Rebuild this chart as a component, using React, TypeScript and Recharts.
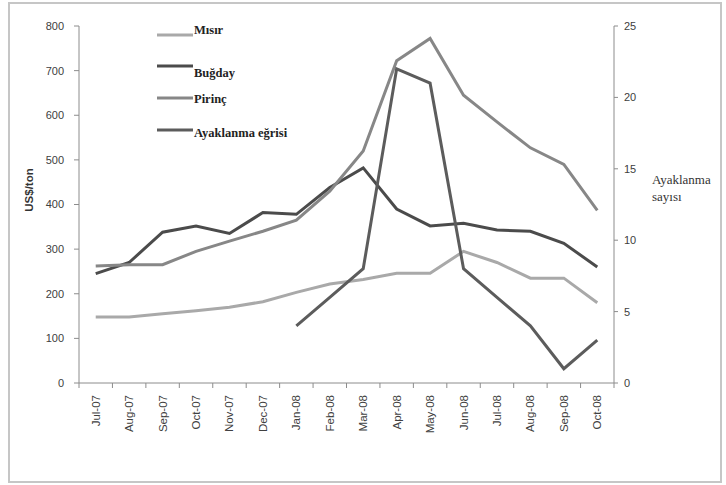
import { LineChart, Line, XAxis, YAxis, Legend, Label } from 'recharts';

const months = [
  'Jul-07', 'Aug-07', 'Sep-07', 'Oct-07', 'Nov-07', 'Dec-07', 'Jan-08', 'Feb-08',
  'Mar-08', 'Apr-08', 'May-08', 'Jun-08', 'Jul-08', 'Aug-08', 'Sep-08', 'Oct-08',
];
const misir = [148, 148, 155, 162, 170, 182, 203, 222, 232, 246, 246, 295, 270, 235, 235, 180];
const bugday = [245, 270, 338, 352, 335, 382, 378, 438, 482, 390, 352, 358, 343, 340, 313, 260];
const pirinc = [262, 265, 265, 295, 318, 340, 365, 430, 520, 722, 772, 645, 585, 527, 490, 387];
const ayaklanma = [null, null, null, null, null, null, 4, 6, 8, 22, 21, 8, 6, 4, 1, 3];

const priceTicks = [0, 100, 200, 300, 400, 500, 600, 700, 800];
const riotTicks = [0, 5, 10, 15, 20, 25];

const series = [
  { key: 'Mısır', color: '#a9a9a9', axis: 'left' },
  { key: 'Buğday', color: '#4b4b4b', axis: 'left' },
  { key: 'Pirinç', color: '#878787', axis: 'left' },
  { key: 'Ayaklanma eğrisi', color: '#5c5c5c', axis: 'right' },
];

const data = months.map((m, i) => ({
  month: m,
  'Mısır': misir[i],
  'Buğday': bugday[i],
  'Pirinç': pirinc[i],
  'Ayaklanma eğrisi': ayaklanma[i],
}));

const PLOT_W = 535;
const halfBand = PLOT_W / months.length / 2;

function MonthTick(props: any) {
  const { x, y, payload, index } = props;
  const last = index === months.length - 1;
  return (
    <g>
      <line x1={x - halfBand} x2={x - halfBand} y1={y - 8} y2={y - 3} stroke="#8c8c8c" />
      {last && <line x1={x + halfBand} x2={x + halfBand} y1={y - 8} y2={y - 3} stroke="#8c8c8c" />}
      <text
        x={x}
        y={y}
        transform={`rotate(-90 ${x} ${y})`}
        dx={-4}
        dy={4}
        textAnchor="end"
        fontSize={11.5}
        fontFamily="'Liberation Sans', Arial, sans-serif"
        fill="#404040"
      >
        {payload.value}
      </text>
    </g>
  );
}

// legend rows: [line y, text baseline]
const legendRows = [
  [15, 14],
  [46, 57],
  [78, 83],
  [110, 117],
];

function LegendBox() {
  return (
    <svg width={220} height={130}>
      {series.map((s, i) => (
        <g key={s.key}>
          <line x1={0} x2={36} y1={legendRows[i][0]} y2={legendRows[i][0]} stroke={s.color} strokeWidth={3} />
          <text
            x={37}
            y={legendRows[i][1]}
            fontSize={12.5}
            fontWeight="bold"
            fontFamily="'Liberation Serif', 'Times New Roman', serif"
            fill="#222"
          >
            {s.key}
          </text>
        </g>
      ))}
    </svg>
  );
}

export default function App() {
  return (
    <div style={{ position: 'absolute', left: 0, top: 0, width: 726, height: 485, background: '#fff' }}>
      <div
        style={{
          position: 'absolute',
          left: 8,
          top: 2,
          width: 714,
          height: 481,
          boxSizing: 'border-box',
          border: '2px solid #c6c6c6',
        }}
      />
      <div style={{ position: 'absolute', left: 0, top: 0 }}>
        <LineChart width={726} height={485} data={data} margin={{ top: 26, right: 72, bottom: 42, left: 20 }}>
          <XAxis
            dataKey="month"
            height={60}
            interval={0}
            padding={{ left: halfBand, right: halfBand }}
            tickLine={false}
            stroke="#8c8c8c"
            tick={<MonthTick />}
            tickMargin={0}
            tickSize={8}
          />
          <YAxis
            yAxisId="left"
            width={59}
            domain={[0, 800]}
            ticks={priceTicks}
            interval={0}
            tickSize={5}
            tickMargin={10}
            stroke="#8c8c8c"
            tick={{ fontSize: 11, fill: '#404040', fontFamily: "'Liberation Sans', Arial, sans-serif" }}
          >
            <Label
              content={() => (
                <text
                  x={33}
                  y={190}
                  transform="rotate(-90 33 190)"
                  textAnchor="middle"
                  fontSize={11.5}
                  fontWeight="bold"
                  fontFamily="'Liberation Sans', Arial, sans-serif"
                  fill="#333"
                >
                  US$/ton
                </text>
              )}
            />
          </YAxis>
          <YAxis
            yAxisId="right"
            orientation="right"
            width={40}
            domain={[0, 25]}
            ticks={riotTicks}
            interval={0}
            tickSize={4}
            tickMargin={6}
            stroke="#8c8c8c"
            tick={{ fontSize: 11, fill: '#404040', fontFamily: "'Liberation Sans', Arial, sans-serif" }}
          >
            <Label
              content={() => (
                <text
                  x={652}
                  y={184}
                  fontSize={13}
                  fontFamily="'Liberation Serif', 'Times New Roman', serif"
                  fill="#333"
                >
                  <tspan x={652}>Ayaklanma</tspan>
                  <tspan x={652} dy={17}>sayısı</tspan>
                </text>
              )}
            />
          </YAxis>
          <Legend
            layout="vertical"
            align="center"
            verticalAlign="middle"
            wrapperStyle={{ left: 157, top: 20, width: 220, height: 130 }}
            content={() => <LegendBox />}
          />
          {series.map(s => (
            <Line
              key={s.key}
              yAxisId={s.axis}
              type="linear"
              dataKey={s.key}
              stroke={s.color}
              strokeWidth={3}
              dot={false}
              activeDot={false}
              isAnimationActive={false}
            />
          ))}
        </LineChart>
      </div>
    </div>
  );
}
